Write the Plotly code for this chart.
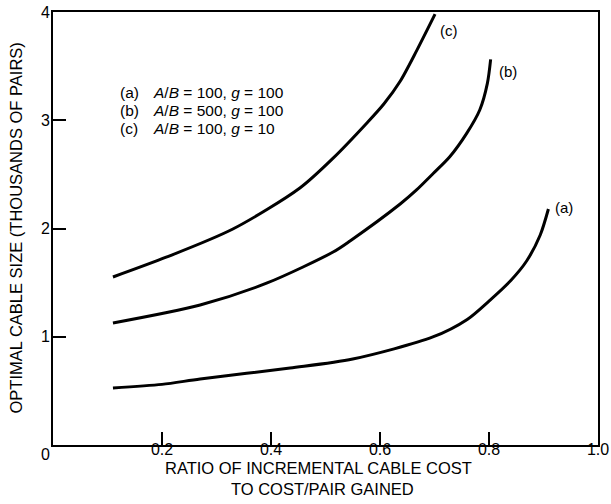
import plotly.graph_objects as go

# Curve data (x: ratio, y: thousands of pairs)
xa = [0.110, 0.20, 0.270, 0.435, 0.550, 0.697, 0.760, 0.800, 0.840, 0.869, 0.894, 0.909]
ya = [0.527, 0.56, 0.610, 0.711, 0.794, 0.998, 1.160, 1.330, 1.520, 1.700, 1.940, 2.180]

xb = [0.110, 0.270, 0.393, 0.514, 0.545, 0.637, 0.667, 0.698, 0.728, 0.759, 0.783, 0.797, 0.803]
yb = [1.127, 1.293, 1.497, 1.783, 1.885, 2.226, 2.356, 2.510, 2.663, 2.879, 3.095, 3.341, 3.563]

xc = [0.110, 0.209, 0.330, 0.453, 0.514, 0.576, 0.607, 0.637, 0.668, 0.701]
yc = [1.552, 1.737, 1.995, 2.374, 2.650, 2.975, 3.150, 3.360, 3.650, 3.980]

curve_labels = ["(a)", "(b)", "(c)"]
label_x = [0.918, 0.815, 0.706]
label_y = [2.19, 3.45, 3.83]

legend_keys = ["(a)", "(b)", "(c)"]
legend_text = ["<i>A</i>/<i>B</i> = 100, <i>g</i> = 100",
               "<i>A</i>/<i>B</i> = 500, <i>g</i> = 100",
               "<i>A</i>/<i>B</i> = 100, <i>g</i> = 10"]
legend_y = [3.26, 3.09, 2.92]

x_ticks = [0.2, 0.4, 0.6, 0.8, 1.0]
x_ticktext = ["0.2", "0.4", "0.6", "0.8", "1.0"]
y_ticks = [1, 2, 3, 4]
y_ticktext = ["1", "2", "3", "4"]

FONT = "Liberation Sans, Arial, Helvetica, sans-serif"

fig = go.Figure()
for xs, ys in [(xa, ya), (xb, yb), (xc, yc)]:
    fig.add_trace(go.Scatter(x=xs, y=ys, mode="lines",
                             line=dict(color="black", width=3, shape="spline", smoothing=0.8),
                             showlegend=False, hoverinfo="skip"))

annotations = []
for t, lx, ly in zip(curve_labels, label_x, label_y):
    annotations.append(dict(x=lx, y=ly, text=t, showarrow=False, xanchor="left",
                            yanchor="middle", font=dict(size=15, color="black", family=FONT)))

for k, t, ly in zip(legend_keys, legend_text, legend_y):
    annotations.append(dict(x=0.119, y=ly, text=k, showarrow=False, xanchor="left",
                            yanchor="middle", font=dict(size=15.5, color="black", family=FONT)))
    annotations.append(dict(x=0.180, y=ly, text=t, showarrow=False, xanchor="left",
                            yanchor="middle", font=dict(size=15.5, color="black", family=FONT)))

# origin label
annotations.append(dict(x=0, y=0, xref="x", yref="y", text="0", showarrow=False,
                        xanchor="center", yanchor="top", xshift=-8, yshift=1,
                        font=dict(size=16, color="black", family=FONT)))

# axis titles
annotations.append(dict(x=0.5, y=0, xref="paper", yref="paper",
                        text="RATIO OF INCREMENTAL CABLE COST",
                        showarrow=False, xanchor="center", yanchor="middle", yshift=-23, xshift=-7,
                        font=dict(size=16.5, color="black", family=FONT)))
annotations.append(dict(x=0.5, y=0, xref="paper", yref="paper",
                        text="TO COST/PAIR GAINED",
                        showarrow=False, xanchor="center", yanchor="middle", yshift=-44, xshift=-3,
                        font=dict(size=16.5, color="black", family=FONT)))
annotations.append(dict(x=0, y=0.5, xref="paper", yref="paper",
                        text="OPTIMAL CABLE SIZE (THOUSANDS OF PAIRS)", textangle=-90,
                        showarrow=False, xanchor="center", yanchor="middle", xshift=-38,
                        font=dict(size=16.5, color="black", family=FONT)))

fig.update_layout(
    width=611, height=504,
    margin=dict(l=53, r=13, t=12, b=59, autoexpand=False),
    paper_bgcolor="white", plot_bgcolor="white",
    font=dict(family=FONT, color="black"),
    annotations=annotations,
)
fig.update_xaxes(range=[0, 1.0], tickvals=x_ticks, ticktext=x_ticktext,
                 ticks="inside", ticklen=13, tickwidth=1.5, tickcolor="black",
                 ticklabelstandoff=-11, ticklabeloverflow="allow",
                 showline=True, linecolor="black", linewidth=2, mirror=True, automargin=False,
                 showgrid=False, zeroline=False, tickfont=dict(size=16, color="black"))
fig.update_yaxes(range=[0, 4.0], tickvals=y_ticks, ticktext=y_ticktext,
                 ticks="inside", ticklen=13, tickwidth=1.5, tickcolor="black",
                 ticklabelstandoff=-2, ticklabeloverflow="allow",
                 showline=True, linecolor="black", linewidth=2, mirror=True, automargin=False,
                 showgrid=False, zeroline=False, tickfont=dict(size=16, color="black"))

fig.write_html("out.html", config={"displayModeBar": False},
               post_script="document.body.style.margin='0';document.body.style.overflow='hidden';")
